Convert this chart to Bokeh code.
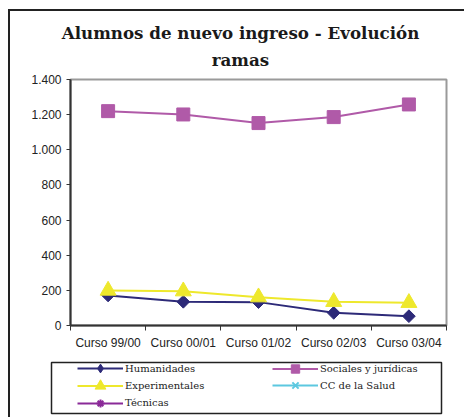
import math
from bokeh.plotting import figure
from bokeh.layouts import column
from bokeh.models import Range1d, FixedTicker, Label, Legend, LegendItem
from bokeh.embed import file_html
from bokeh.resources import INLINE

# ---- data ----
categories = ["Curso 99/00", "Curso 00/01", "Curso 01/02", "Curso 02/03", "Curso 03/04"]
y_ticks = [0, 200, 400, 600, 800, 1000, 1200, 1400]
y_tick_labels = ["0", "200", "400", "600", "800", "1.000", "1.200", "1.400"]
humanidades = [171, 135, 133, 72, 53]
sociales = [1220, 1201, 1152, 1186, 1258]
experimentales = [199, 195, 161, 135, 129]
cc_salud = []
tecnicas = []
series_names = ["Humanidades", "Sociales y jurídicas", "Experimentales",
                "CC de la Salud", "Técnicas"]
title_lines = ["Alumnos de nuevo ingreso - Evolución", "ramas"]

colors = ["#2d2a78", "#b05aa8", "#eee82c", "#5cc8e0", "#8a2a98"]
markers = ["square", "square", "triangle", "x", "asterisk"]
legend_markers = ["diamond", "square", "triangle", "x", "asterisk"]
angles = [math.pi / 4, 0, 0, 0, 0]
sizes = [9, 13, 16, 10, 10]

xs = [i + 0.5 for i in range(len(categories))]
W = 454
NAN = float("nan")

# ---- title figure ----
tf = figure(width=W, height=59, output_backend="svg", toolbar_location=None,
            x_range=Range1d(0, 1), y_range=Range1d(0, 1), min_border=0,
            x_axis_location=None, y_axis_location=None, frame_align=False)
tf.outline_line_color = None
tf.xgrid.visible = False
tf.ygrid.visible = False
for txt, yy in zip(title_lines, [38, 10.5]):
    tf.add_layout(Label(x=230, y=yy, x_units="screen", y_units="screen", text=txt,
                        text_align="center", text_baseline="alphabetic",
                        text_font="DejaVu Serif", text_font_style="bold",
                        text_font_size="16.7px", text_color="#1a1a1a"))

# ---- main chart ----
p = figure(width=W, height=282, output_backend="svg", toolbar_location=None,
           x_range=Range1d(0, len(categories)), y_range=Range1d(0, 1400),
           min_border_left=60, min_border_right=18, min_border_top=9,
           min_border_bottom=27, frame_align=False)
p.background_fill_color = "white"
p.border_fill_color = "white"
p.xgrid.visible = False
p.ygrid.visible = False
p.outline_line_color = "#9a9a9a"
p.outline_line_width = 2

xa = p.xaxis[0]
xa.ticker = FixedTicker(ticks=xs, minor_ticks=list(range(len(categories) + 1)))
xa.major_label_overrides = {x: c for x, c in zip(xs, categories)}
xa.major_tick_out = 0
xa.major_tick_in = 0
xa.minor_tick_out = 5
xa.minor_tick_in = 0
xa.minor_tick_line_color = "#333333"
xa.axis_line_color = "#333333"
xa.axis_line_width = 2
xa.major_label_standoff = 5
xa.major_label_text_font = "Liberation Sans"
xa.major_label_text_font_size = "12px"
xa.major_label_text_color = "#222222"

ya = p.yaxis[0]
ya.ticker = FixedTicker(ticks=y_ticks)
ya.major_label_overrides = {t: l for t, l in zip(y_ticks, y_tick_labels)}
ya.major_tick_out = 4
ya.major_tick_in = 0
ya.minor_tick_out = 0
ya.minor_tick_in = 0
ya.major_tick_line_color = "#333333"
ya.axis_line_color = "#333333"
ya.axis_line_width = 2
ya.major_label_standoff = 5
ya.major_label_text_font = "Liberation Sans"
ya.major_label_text_font_size = "12px"
ya.major_label_text_color = "#222222"

values = [humanidades, sociales, experimentales, cc_salud, tecnicas]
for vals, col, mk, ang, sz in zip(values, colors, markers, angles, sizes):
    xx = xs[:len(vals)]
    p.line(xx, vals, line_color=col, line_width=2)
    p.scatter(xx, vals, marker=mk, angle=ang, size=sz, fill_color=col,
              line_color=col, line_width=2 if mk in ("x", "asterisk") else 1)

# ---- legend figure (frame = legend box) ----
lf = figure(width=W, height=65, output_backend="svg", toolbar_location=None,
            x_range=Range1d(0, 1), y_range=Range1d(0, 1),
            min_border_left=41, min_border_right=23, min_border_top=10,
            min_border_bottom=4, x_axis_location=None, y_axis_location=None,
            frame_align=False)
lf.xgrid.visible = False
lf.ygrid.visible = False
lf.outline_line_color = "#222222"
lf.outline_line_width = 1.5

# one legend per entry: (glyph height -> marker size, location in box)
legend_slots = [(22, (26, 33.7)),    # Humanidades
                (21, (221, 34.5)),   # Sociales y jurídicas
                (27, (26, 14.2)),    # Experimentales
                (22, (221, 17)),     # CC de la Salud
                (20, (26, 0.3))]     # Técnicas

for name, col, mk, (gh, loc) in zip(series_names, colors, legend_markers, legend_slots):
    # legend proxies (no visible data in this panel)
    lr = lf.line([NAN], [NAN], line_color=col, line_width=2)
    sr = lf.scatter([NAN], [NAN], marker=mk, size=10, fill_color=col,
                    line_color=col, line_width=2 if mk in ("x", "asterisk") else 1)
    lf.add_layout(Legend(items=[LegendItem(label=name, renderers=[lr, sr])],
                         location=loc, orientation="vertical", padding=0, spacing=0,
                         glyph_width=46, glyph_height=gh, label_height=gh,
                         label_standoff=2, label_text_font="DejaVu Serif",
                         label_text_font_size="10px", label_text_color="#222222",
                         border_line_color=None, background_fill_alpha=0, margin=0))

layout = column(tf, p, lf, spacing=0,
                styles={"border-left": "2px solid #222222",
                        "border-top": "2px solid #222222",
                        "margin-left": "8px", "margin-top": "9px"})

open("out.html", "w").write(file_html(layout, INLINE))
